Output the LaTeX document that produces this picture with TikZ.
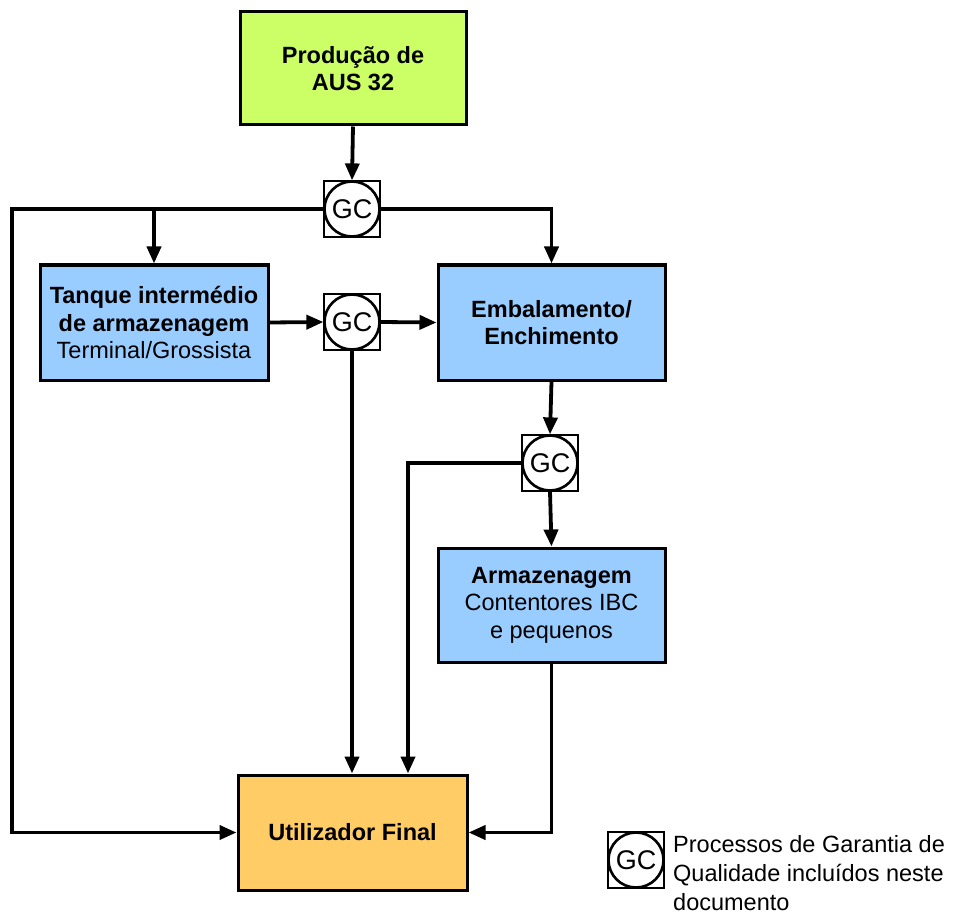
\documentclass[tikz,border=0pt]{standalone}
\usepackage{fontspec}
\setmainfont{Liberation Sans}
\usetikzlibrary{arrows.meta}
\definecolor{limeg}{HTML}{CCFF66}
\definecolor{boxblue}{HTML}{99CCFF}
\definecolor{boxorange}{HTML}{FFCC66}
\begin{document}
\begin{tikzpicture}[x=1pt,y=-1pt,
  procbox/.style={draw=black,line width=3pt,align=center,inner sep=0pt,
    font=\fontsize{23.5}{27.5}\selectfont},
  gcbox/.style={draw=black,line width=1.2pt,fill=white,minimum size=56pt,inner sep=0pt},
  gccirc/.style={draw=black,circle,line width=2.6pt,minimum size=55pt,inner sep=0pt,
    font=\fontsize{27}{27}\selectfont},
  conn/.style={line width=3.8pt},
  arr/.style={conn,-{Triangle[length=17pt,width=14pt]}}
]
\useasboundingbox (0,0) rectangle (955,917);

% boxes
\node[procbox,fill=limeg,minimum width=226pt,minimum height=113pt] (prod) at (353,68.5)
  {\textbf{Produção de}\\\textbf{AUS 32}};
\node[procbox,fill=boxblue,minimum width=228pt,minimum height=115pt] (tanq) at (154,322.5)
  {\textbf{Tanque intermédio}\\\textbf{de armazenagem}\\Terminal/Grossista};
\node[procbox,fill=boxblue,minimum width=227pt,minimum height=115pt] (emb) at (551.5,322.5)
  {\textbf{Embalamento/}\\\textbf{Enchimento}};
\node[procbox,fill=boxblue,minimum width=227pt,minimum height=114pt] (arm) at (551.5,605)
  {\textbf{Armazenagem}\\Contentores IBC\\e pequenos};
\node[procbox,fill=boxorange,minimum width=229pt,minimum height=115pt] (util) at (352.5,832.5)
  {\textbf{Utilizador Final}};

% GC symbols
\node[gcbox] (g1) at (352,209) {};
\node[gccirc] (g1c) at (g1) {GC};
\node[gcbox] (g2) at (352,322) {};
\node[gccirc] (g2c) at (g2) {GC};
\node[gcbox] (g3) at (550,463) {};
\node[gccirc] (g3c) at (g3) {GC};

% legend
\node[gcbox] (gl) at (636,860) {};
\node[gccirc] (glc) at (gl) {GC};
\node[anchor=north west,align=left,inner sep=0pt,font=\fontsize{23.5}{29}\selectfont] (legtxt) at (673,835)
  {Processos de Garantia de\\Qualidade incluídos neste\\documento};

% connectors
\coordinate (leftc) at (12,209);
\draw[arr] (prod.south) -- (g1.north);
\draw[arr] (g1.west) -- (leftc) |- (util.west);
\draw[arr] (tanq.north |- g1.west) -- (tanq.north);
\draw[arr] (g1.east) -| (emb.north);
\draw[arr] (tanq.east) -- (g2.west);
\draw[arr] (g2.east) -- (emb.west);
\draw[arr] (g2.south) -- (util.north -| g2.south);
\draw[arr] (emb.south) -- (g3.north);
\coordinate (g3left) at (408,463);
\draw[arr] (g3.west) -- (g3left) -- (util.north -| g3left);
\draw[arr] (g3.south) -- (arm.north);
\draw[arr] (arm.south) |- (util.east);
\end{tikzpicture}
\end{document}
